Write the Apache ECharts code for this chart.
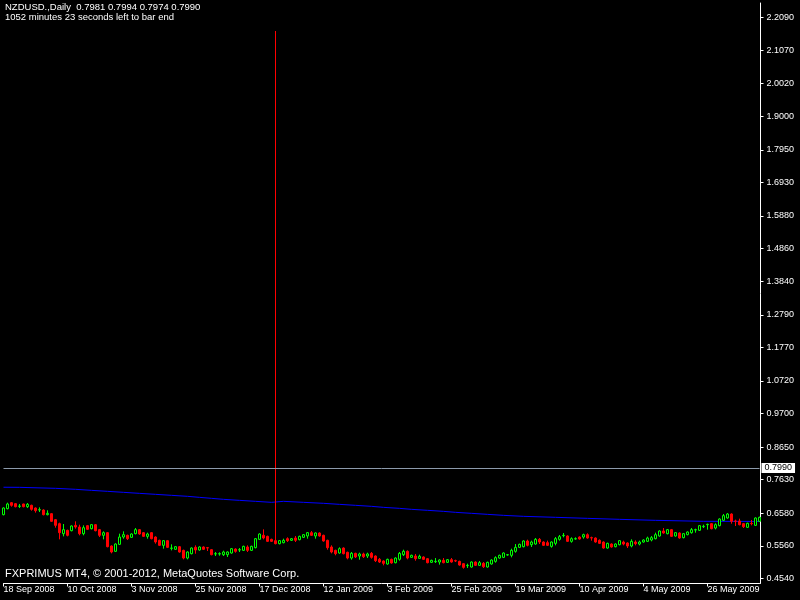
<!DOCTYPE html>
<html><head><meta charset="utf-8">
<script src="https://cdn.jsdelivr.net/npm/echarts@6/dist/echarts.min.js"></script>
<style>html,body{margin:0;padding:0;background:#000;}#c{width:800px;height:600px;}</style>
</head><body><div id="c"></div>
<script>
// ---- data ----
const monthDays = [
  ['Sep 2008', [18,19,22,23,24,25,26,29,30]],
  ['Oct 2008', [1,2,3,6,7,8,9,10,13,14,15,16,17,20,21,22,23,24,27,28,29,30,31]],
  ['Nov 2008', [3,4,5,6,7,10,11,12,13,14,17,18,19,20,21,24,25,26,27,28]],
  ['Dec 2008', [1,2,3,4,5,8,9,10,11,12,15,16,17,18,19,22,23,24,26,29,30,31]],
  ['Jan 2009', [2,5,6,7,8,9,12,13,14,15,16,19,20,21,22,23,26,27,28,29,30]],
  ['Feb 2009', [2,3,4,5,6,9,10,11,12,13,16,17,18,19,20,23,24,25,26,27]],
  ['Mar 2009', [2,3,4,5,6,9,10,11,12,13,16,17,18,19,20,23,24,25,26,27,30,31]],
  ['Apr 2009', [1,2,3,6,7,8,9,10,13,14,15,16,17,20,21,22,23,24,27,28,29,30]],
  ['May 2009', [1,4,5,6,7,8,11,12,13,14,15,18,19,20,21,22,25,26,27,28,29]],
  ['Jun 2009', [1,2,3,4,5,8,9,10,11,12]]
];
const xTickLabels = ['18 Sep 2008','10 Oct 2008','3 Nov 2008','25 Nov 2008','17 Dec 2008','12 Jan 2009','3 Feb 2009','25 Feb 2009','19 Mar 2009','10 Apr 2009','4 May 2009','26 May 2009'];

const opens = [
0.6537,0.6725,0.6912,0.6881,0.6798,0.6871,0.6787,0.6829,0.6746,0.6683,
0.6683,0.6537,0.6568,0.6381,0.6256,0.5943,0.6047,0.6036,0.6203,0.6151,
0.5943,0.6193,0.6099,0.6224,0.6068,0.5891,0.5974,0.5557,0.5390,0.5609,
0.5838,0.5891,0.5828,0.5943,0.6068,0.5974,0.5859,0.5974,0.5838,0.5734,
0.5578,0.5724,0.5484,0.5453,0.5536,0.5421,0.5181,0.5317,0.5515,0.5432,
0.5526,0.5505,0.5442,0.5307,0.5307,0.5286,0.5286,0.5338,0.5463,0.5432,
0.5421,0.5526,0.5421,0.5505,0.5765,0.5891,0.5859,0.5765,0.5724,0.5630,
0.5661,0.5786,0.5734,0.5807,0.5755,0.5828,0.5870,0.5974,0.5870,0.5964,
0.5891,0.5734,0.5526,0.5421,0.5338,0.5494,0.5359,0.5181,0.5327,0.5244,
0.5307,0.5244,0.5327,0.5244,0.5140,0.5088,0.4994,0.5140,0.5035,0.5140,
0.5286,0.5390,0.5202,0.5244,0.5171,0.5213,0.5161,0.5046,0.5067,0.5056,
0.5108,0.5046,0.5129,0.5098,0.5077,0.5004,0.4942,0.4900,0.5056,0.4952,
0.5015,0.4900,0.4994,0.5077,0.5181,0.5202,0.5275,0.5265,0.5390,0.5515,
0.5536,0.5713,0.5598,0.5619,0.5765,0.5682,0.5661,0.5546,0.5640,0.5765,
0.5880,0.5870,0.5703,0.5776,0.5838,0.5838,0.5911,0.5818,0.5807,0.5734,
0.5682,0.5494,0.5619,0.5536,0.5598,0.5682,0.5651,0.5557,0.5682,0.5619,
0.5682,0.5703,0.5745,0.5786,0.5870,0.6026,0.5943,0.6068,0.5870,0.5964,
0.5818,0.5911,0.5974,0.6057,0.6047,0.6162,0.6224,0.6256,0.6120,0.6193,
0.6360,0.6433,0.6558,0.6339,0.6339,0.6256,0.6141,0.6266,0.6203,0.6329];
const closes = [
0.6746,0.6871,0.6829,0.6787,0.6808,0.6787,0.6860,0.6704,0.6662,0.6693,
0.6537,0.6579,0.6329,0.6203,0.5974,0.6068,0.5891,0.6183,0.6151,0.5943,
0.6130,0.6078,0.6224,0.6036,0.5891,0.5974,0.5536,0.5369,0.5619,0.5838,
0.5911,0.5786,0.5932,0.6068,0.5932,0.5859,0.5932,0.5786,0.5682,0.5578,
0.5724,0.5515,0.5494,0.5536,0.5369,0.5181,0.5369,0.5494,0.5432,0.5526,
0.5453,0.5494,0.5286,0.5317,0.5317,0.5369,0.5369,0.5473,0.5390,0.5442,
0.5546,0.5421,0.5546,0.5786,0.5932,0.5807,0.5703,0.5703,0.5630,0.5724,
0.5734,0.5724,0.5786,0.5734,0.5859,0.5911,0.5974,0.5891,0.5964,0.5870,
0.5713,0.5505,0.5369,0.5317,0.5473,0.5317,0.5181,0.5327,0.5213,0.5307,
0.5223,0.5307,0.5202,0.5098,0.5056,0.5015,0.5140,0.5025,0.5181,0.5327,
0.5390,0.5181,0.5265,0.5161,0.5234,0.5140,0.5035,0.5108,0.5077,0.5119,
0.5035,0.5129,0.5056,0.5088,0.4962,0.4889,0.4952,0.5056,0.4952,0.5035,
0.4910,0.5046,0.5119,0.5192,0.5265,0.5338,0.5286,0.5421,0.5515,0.5609,
0.5713,0.5578,0.5682,0.5765,0.5682,0.5578,0.5578,0.5682,0.5786,0.5849,
0.5891,0.5703,0.5786,0.5786,0.5776,0.5911,0.5807,0.5807,0.5682,0.5640,
0.5494,0.5640,0.5526,0.5619,0.5724,0.5619,0.5557,0.5703,0.5630,0.5682,
0.5745,0.5807,0.5818,0.5911,0.6026,0.5964,0.6068,0.5859,0.5974,0.5807,
0.5943,0.5995,0.6068,0.6068,0.6193,0.6172,0.6235,0.6099,0.6224,0.6402,
0.6506,0.6558,0.6329,0.6329,0.6224,0.6162,0.6266,0.6256,0.6433,0.6454];
const lows = [
0.6516,0.6704,0.6787,0.6766,0.6746,0.6766,0.6746,0.6662,0.6600,0.6620,
0.6516,0.6516,0.6308,0.6130,0.5765,0.5859,0.5859,0.6016,0.6099,0.5891,
0.5891,0.6057,0.6078,0.6016,0.5838,0.5765,0.5515,0.5327,0.5369,0.5588,
0.5786,0.5745,0.5807,0.5922,0.5911,0.5838,0.5786,0.5765,0.5630,0.5557,
0.5473,0.5494,0.5421,0.5432,0.5348,0.5140,0.5140,0.5296,0.5317,0.5411,
0.5432,0.5400,0.5265,0.5244,0.5254,0.5244,0.5213,0.5317,0.5348,0.5369,
0.5400,0.5369,0.5400,0.5484,0.5745,0.5765,0.5682,0.5682,0.5609,0.5609,
0.5640,0.5682,0.5713,0.5682,0.5734,0.5807,0.5786,0.5870,0.5786,0.5849,
0.5692,0.5442,0.5327,0.5265,0.5317,0.5296,0.5140,0.5129,0.5181,0.5129,
0.5181,0.5181,0.5161,0.5056,0.5025,0.4952,0.4973,0.5004,0.5015,0.5098,
0.5244,0.5140,0.5181,0.5098,0.5161,0.5119,0.5015,0.5025,0.5025,0.4973,
0.5015,0.5025,0.5035,0.5056,0.4942,0.4848,0.4869,0.4879,0.4931,0.4931,
0.4869,0.4879,0.4973,0.5035,0.5161,0.5181,0.5254,0.5202,0.5348,0.5494,
0.5515,0.5546,0.5526,0.5598,0.5619,0.5557,0.5557,0.5505,0.5578,0.5724,
0.5828,0.5682,0.5661,0.5755,0.5755,0.5786,0.5786,0.5724,0.5661,0.5619,
0.5473,0.5473,0.5505,0.5515,0.5578,0.5578,0.5494,0.5515,0.5578,0.5578,
0.5661,0.5682,0.5703,0.5765,0.5849,0.5943,0.5922,0.5838,0.5849,0.5786,
0.5797,0.5891,0.5943,0.5974,0.6026,0.6120,0.6068,0.6078,0.6078,0.6172,
0.6339,0.6412,0.6256,0.6183,0.6203,0.6120,0.6120,0.6203,0.6183,0.6308];
const highs = [
0.6766,0.6912,0.6933,0.6902,0.6871,0.6881,0.6902,0.6850,0.6766,0.6766,
0.6704,0.6673,0.6589,0.6402,0.6287,0.6245,0.6068,0.6203,0.6329,0.6224,
0.6203,0.6214,0.6245,0.6245,0.6089,0.6016,0.5995,0.5578,0.5640,0.5943,
0.6016,0.5911,0.5953,0.6120,0.6089,0.5995,0.5974,0.5995,0.5859,0.5755,
0.5745,0.5745,0.5609,0.5557,0.5557,0.5442,0.5390,0.5515,0.5578,0.5546,
0.5546,0.5526,0.5463,0.5369,0.5359,0.5411,0.5390,0.5494,0.5484,0.5494,
0.5567,0.5578,0.5567,0.5807,0.5953,0.6078,0.5880,0.5786,2.1667,0.5745,
0.5786,0.5828,0.5807,0.5870,0.5880,0.5932,0.5995,0.6026,0.5984,0.5984,
0.5911,0.5755,0.5578,0.5442,0.5515,0.5515,0.5380,0.5369,0.5348,0.5348,
0.5348,0.5348,0.5369,0.5265,0.5181,0.5108,0.5161,0.5161,0.5202,0.5369,
0.5442,0.5421,0.5286,0.5307,0.5286,0.5234,0.5181,0.5129,0.5181,0.5140,
0.5181,0.5150,0.5181,0.5129,0.5098,0.5025,0.5004,0.5077,0.5077,0.5088,
0.5056,0.5067,0.5140,0.5234,0.5286,0.5359,0.5307,0.5473,0.5619,0.5630,
0.5734,0.5755,0.5724,0.5807,0.5807,0.5703,0.5724,0.5703,0.5838,0.5901,
0.5964,0.5891,0.5828,0.5828,0.5859,0.5943,0.5953,0.5849,0.5828,0.5765,
0.5703,0.5661,0.5640,0.5640,0.5745,0.5724,0.5671,0.5765,0.5734,0.5724,
0.5765,0.5849,0.5870,0.5974,0.6047,0.6120,0.6089,0.6089,0.5995,0.5984,
0.5964,0.6016,0.6120,0.6099,0.6214,0.6224,0.6256,0.6277,0.6266,0.6423,
0.6558,0.6589,0.6579,0.6381,0.6412,0.6277,0.6287,0.6370,0.6454,0.6475];

// moving average line, read at points along its length (bar index, value)
const maIndex = [0,4,13,18,22,26,30,34,38,42,46,49,52,55,59,63,67,70,75,80,84,88,92,95,99,102,106,110,113,117,121,125,130,138,146,154,163,175,189];
const maValues = [0.7395,0.7392,0.7361,0.7330,0.7298,0.7267,0.7236,0.7204,0.7173,0.7142,0.7111,0.7079,0.7048,0.7017,0.6985,0.6954,0.6923,0.6954,0.6923,0.6892,0.6860,0.6829,0.6798,0.6766,0.6735,0.6704,0.6673,0.6641,0.6610,0.6579,0.6547,0.6516,0.6485,0.6454,0.6422,0.6391,0.6360,0.6329,0.6325];

const yTicks = [0.4540,0.5560,0.6580,0.7630,0.8650,0.9700,1.0720,1.1770,1.2790,1.3840,1.4860,1.5880,1.6930,1.7950,1.9000,2.0020,2.1070,2.2090];
const yMin = 0.4384, yMax = 2.2543;
const bidPrice = 0.7990;
const titleLine1 = 'NZDUSD.,Daily  0.7981 0.7994 0.7974 0.7990';
const titleLine2 = '1052 minutes 23 seconds left to bar end';
const copyrightText = 'FXPRIMUS MT4, \u00A9 2001-2012, MetaQuotes Software Corp.';

// ---- build ----
const dates = [];
monthDays.forEach(([m, days]) => days.forEach(d => dates.push(d + ' ' + m)));
const ohlc = dates.map((d, i) => [opens[i], closes[i], lows[i], highs[i]]);
const maData = maIndex.map((k, j) => [k, maValues[j]]);

const FONT = '"Liberation Sans", Arial, sans-serif';
const chart = echarts.init(document.getElementById('c'), null, {renderer: 'canvas', width: 800, height: 600});
chart.setOption({
  backgroundColor: '#000000',
  animation: false,
  grid: {left: 3.5, right: 40.5, top: 3, bottom: 16.5, containLabel: false, outerBoundsMode: 'none'},
  xAxis: {
    type: 'category', data: dates, boundaryGap: false,
    axisLine: {show: true, lineStyle: {color: '#ffffff', width: 1}},
    axisTick: {show: true, length: 3, lineStyle: {color: '#ffffff'}, interval: (i, v) => xTickLabels.includes(v)},
    axisLabel: {color: '#ffffff', fontSize: 9, fontFamily: FONT, align: 'left', margin: 2,
      interval: (i, v) => xTickLabels.includes(v), hideOverlap: false},
    splitLine: {show: false}
  },
  yAxis: {
    type: 'value', position: 'right', min: yMin, max: yMax, offset: 1,
    axisLine: {show: true, lineStyle: {color: '#ffffff', width: 1}},
    axisTick: {show: true, length: 3, customValues: yTicks, lineStyle: {color: '#ffffff'}},
    axisLabel: {color: '#ffffff', fontSize: 9, fontFamily: FONT, margin: 6, customValues: yTicks,
      formatter: v => Number(v).toFixed(4)},
    splitLine: {show: false}
  },
  series: [
    {
      type: 'line', data: maData, z: 1, symbol: 'none', connectNulls: true, silent: true,
      lineStyle: {color: '#0000ff', width: 1}
    },
    {
      type: 'candlestick', data: ohlc, z: 3, barWidth: 2, clip: false, silent: true,
      itemStyle: {color: '#000000', color0: '#ff0000', borderColor: '#00ff00', borderColor0: '#ff0000', borderWidth: 1},
      markLine: {
        silent: true, symbol: 'none', animation: false,
        lineStyle: {color: '#8c9aab', width: 1, type: 'solid'},
        label: {show: true, position: 'end', formatter: bidPrice.toFixed(4), color: '#000000',
          backgroundColor: '#ffffff', padding: [1, 3, 0, 3], fontSize: 9, fontFamily: FONT, distance: 2},
        data: [{yAxis: bidPrice}]
      }
    }
  ],
  graphic: [
    {type: 'text', left: 5, top: 2.5, silent: true,
      style: {text: titleLine1, fill: '#ffffff', fontSize: 9.5, fontFamily: FONT}},
    {type: 'text', left: 5, top: 12, silent: true,
      style: {text: titleLine2, fill: '#ffffff', fontSize: 9.5, fontFamily: FONT}},
    {type: 'text', left: 5, top: 568, silent: true,
      style: {text: copyrightText, fill: '#ffffff', fontSize: 11, fontFamily: FONT}}
  ]
});
</script></body></html>
